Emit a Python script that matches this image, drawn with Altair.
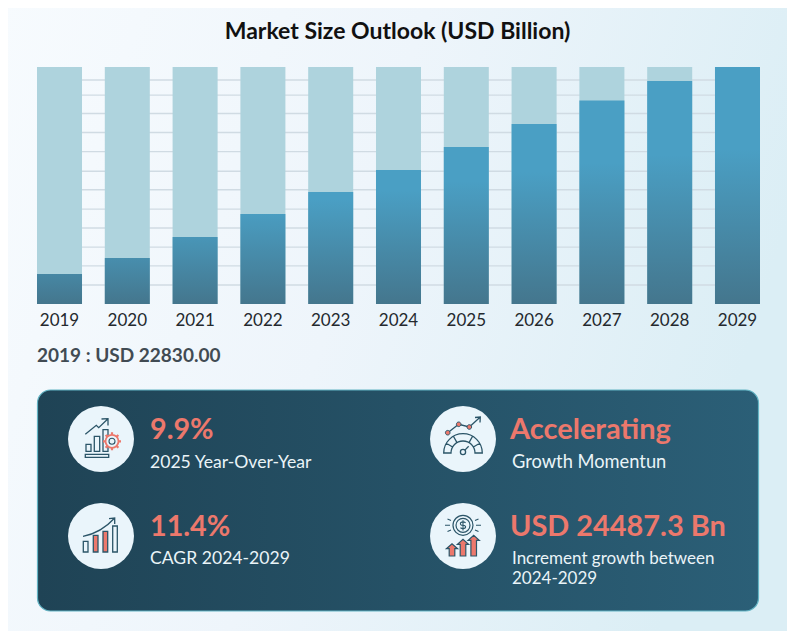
import math
import altair as alt

# ---- data ----
years = ["2019", "2020", "2021", "2022", "2023", "2024", "2025", "2026", "2027", "2028", "2029"]
values = [22830, 35000, 51000, 68500, 85200, 102000, 119500, 137000, 154900, 169700, 180400]
grid_values = [14500, 29000, 43300, 57800, 72200, 87000, 101000, 116000, 130500, 145000, 159000, 170500]
title_text = "Market Size Outlook (USD Billion)"
note_text = "2019 : USD 22830.00"
stat_big = ["9.9%", "11.4%", "Accelerating", "USD 24487.3 Bn"]
stat_small = ["2025 Year-Over-Year", "CAGR 2024-2029", "Growth Momentun", "Increment growth between", "2024-2029"]

FONT = "Lato"
CORAL = "#EC786C"
INK = "#2B5568"
DARK = "#44768D"
BRIGHT = "#4A9FC4"
PAGE = 8


def gradient(stops, x1=0, y1=0, x2=1, y2=0):
    return alt.LinearGradient(
        gradient="linear", x1=x1, y1=y1, x2=x2, y2=y2,
        stops=[alt.GradientStop(offset=o, color=col) for o, col in stops],
    )


def rect(x0, y0, x1, y1):
    return f"M{x0} {y0}L{x1} {y0}L{x1} {y1}L{x0} {y1}Z"


def circ(cx, cy, r):
    return f"M{cx-r} {cy}A{r} {r} 0 1 0 {cx+r} {cy}A{r} {r} 0 1 0 {cx-r} {cy}Z"


def poly(*pts):
    return "M" + "L".join(f"{x} {y}" for x, y in pts)


def px(v):
    return alt.value(v - PAGE)


def shape(cx, cy, path, fill=None, stroke=INK, sw=1.3):
    kw = dict(filled=True, fill=fill) if fill else dict(filled=False)
    return alt.Chart(alt.Data(values=[{"i": 0}])).mark_point(
        shape=path, size=4, stroke=stroke, strokeWidth=sw, opacity=1, **kw
    ).encode(x=px(cx), y=px(cy))


def label(text, x, y, size, color, weight="normal"):
    return alt.Chart(alt.Data(values=[{"t": text}])).mark_text(
        font=FONT, fontSize=size, fontWeight=weight, color=color, align="left", baseline="middle"
    ).encode(text="t:N", x=px(x), y=px(y))


def frame(x0, y0, x1, y1, **kw):
    return alt.Chart(alt.Data(values=[{"i": 0}])).mark_rect(**kw).encode(
        x=px(x0), x2=px(x1), y=px(y0), y2=px(y1)
    )


MAXV = values[-1]
PLOT_H = 237
WIDTH, HEIGHT = 779, 623
x_scale = alt.Scale(domain=years, range=[37 - PAGE, 760 - PAGE], paddingInner=0.336, paddingOuter=0)
y_scale = alt.Scale(domain=[0, MAXV], range=[304 - PAGE, 67 - PAGE], nice=False)
x_enc = alt.X(
    "year:O", scale=x_scale, sort=years, title=None,
    axis=alt.Axis(orient="bottom", offset=304 - PAGE - HEIGHT, domain=False, ticks=False, labelAngle=0, zindex=1,
                  labelFont=FONT, labelFontSize=17, labelColor="#24292E", labelPadding=8, grid=False),
)
y_enc = alt.Y("v:Q", scale=y_scale, title=None, axis=None)

background = frame(0, 0, 808, 640, fill=gradient(
    [(0, "#F7FBFE"), (0.5, "#EEF5FB"), (1, "#DBEEF5")], y2=0.25))

grid = alt.Chart(alt.Data(values=[{"v": v} for v in grid_values])).mark_rule(
    color="#D0DBE3", strokeWidth=1.4
).encode(x=px(37), x2=px(760), y=alt.Y("v:Q", scale=y_scale, title=None, axis=None))

backdrop = alt.Chart(alt.Data(values=[{"year": y, "v": MAXV} for y in years])).mark_bar(
    color="#AED3DD"
).encode(x=x_enc, y=y_enc)

bars = []
for year, val in zip(years, values):
    h = val / MAXV * PLOT_H
    ramp = 60 + 0.4 * h  # pixels above the base where the fill reaches its bright colour
    grad = gradient([(0, DARK), (1, BRIGHT)], x1=0, x2=0, y1=1, y2=1 - ramp / h)
    bars.append(
        alt.Chart(alt.Data(values=[{"year": year, "v": val}])).mark_bar(color=grad).encode(x=x_enc, y=y_enc)
    )

panel = frame(37.5, 390, 758.5, 611, cornerRadius=13, stroke="#63B4C4", strokeWidth=1.2,
              fill=gradient([(0, "#1F4355"), (1, "#2B5F77")]))

centers = [(101, 439), (101, 536), (463, 439), (463, 536)]
discs = [
    alt.Chart(alt.Data(values=[{"i": 0}])).mark_circle(size=4356, color="#EAF5FB", opacity=1).encode(x=px(cx), y=px(cy))
    for cx, cy in centers
]

# icon 1: bars, arrow and gear
c = centers[0]
gear_teeth = "".join(
    poly((11 + 6.5 * math.cos(a * math.pi / 4), 2.3 + 6.5 * math.sin(a * math.pi / 4)),
         (11 + 9 * math.cos(a * math.pi / 4), 2.3 + 9 * math.sin(a * math.pi / 4)))
    for a in range(8)
)
icon1 = [
    shape(*c, rect(-15.7, 15.3, 7.7, 18.3)),
    shape(*c, rect(-15, 5.3, -10, 12.3) + rect(-6.7, -2.7, -1.3, 12.3) + rect(2, -9.3, 7, 12.3)),
    shape(*c, poly((-15.7, -4.7), (-4.7, -13.7), (-2.3, -11.3), (7, -20.3)) + poly((0.5, -20), (7, -20.3), (7, -13.5))),
    shape(*c, circ(11, 2.3, 6.5), fill="#EAF5FB", stroke=CORAL, sw=1.8),
    shape(*c, gear_teeth, stroke=CORAL, sw=2.2),
    shape(*c, circ(11, 2.3, 3), stroke=INK, sw=1.1),
]
# icon 2: rising bars and curve
c = centers[1]
icon2 = [
    shape(*c, rect(-17.7, 5.3, -13, 16) + rect(11.7, -10, 16.3, 16)),
    shape(*c, rect(-7.7, -0.7, -3, 16) + rect(2, -4.7, 6.7, 16), fill=CORAL),
    shape(*c, "M-18 0.3Q0 -3 13.7 -18" + poly((8, -17.3), (13.7, -18), (13.7, -12))),
]
# icon 3: gauge and trend
c = centers[2]
gauge = ("M-19.3 14A19.3 19.3 0 0 1 19.3 14L12 14A12 12 0 0 0 -12 14Z"
         + poly((-16.7, 4.3), (-10.4, 8)) + poly((-9.6, -2.7), (-6, 3.6))
         + poly((9.6, -2.7), (6, 3.6)) + poly((16.7, 4.3), (10.4, 8)))
icon3 = [
    shape(*c, gauge),
    shape(*c, poly((1.6, 11.4), (5.7, 7.3))),
    shape(*c, circ(0, 13, 2.6), fill="#EAF5FB"),
    shape(*c, poly((-15.3, -6.3), (-4.3, -14.7), (6.3, -12), (17.3, -22)) + poly((12, -21.5), (17.3, -22), (17, -16.5))),
    shape(*c, circ(-15.3, -6.3, 2.3) + circ(-4.3, -14.7, 2.3) + circ(6.3, -12, 2.3), fill=CORAL, sw=1),
]
# icon 4: coin and arrows
c = centers[3]
rays = (poly((-18, -10.7), (-13, -10.7)) + poly((13, -10.7), (18, -10.7))
        + poly((-15.5, -17), (-12, -15.5)) + poly((15.5, -17), (12, -15.5))
        + poly((-15.5, -4.5), (-12, -6)) + poly((15.5, -4.5), (12, -6)))


def arrow(x, top, bottom=20):
    return poly((x - 2.8, bottom), (x - 2.8, top + 5), (x - 5.6, top + 5), (x, top),
                (x + 5.6, top + 5), (x + 2.8, top + 5), (x + 2.8, bottom)) + "Z"


icon4 = [
    shape(*c, circ(0, -10.7, 10) + circ(0, -10.7, 7), sw=1.2),
    shape(*c, rays, sw=1.1),
    shape(*c, "M2.6 -13.2Q0 -15 -2.4 -13.2Q-3.4 -11 0 -10.7Q3.4 -10.4 2.4 -8.2Q0 -6.4 -2.6 -8.2"
              + poly((0, -15.8), (0, -5.6)), sw=1.1),
    shape(*c, arrow(-11, 7.7) + arrow(0, 3.3) + arrow(10.7, -0.7), fill=CORAL, sw=1.2),
]

SMALL = 17.6
texts = [
    label(note_text, 37, 356, 19, "#414B53", "bold"),
    label(stat_big[0], 150, 430, 28.7, CORAL, "bold"),
    label(stat_small[0], 150, 462.5, SMALL, "#EAF4F8"),
    label(stat_big[1], 150, 527, 28.7, CORAL, "bold"),
    label(stat_small[1], 150, 558.5, SMALL, "#EAF4F8"),
    label(stat_big[2], 510, 430, 29, CORAL, "bold"),
    label(stat_small[2], 512, 462.5, 18.3, "#EAF4F8"),
    label(stat_big[3], 510, 527, 28.9, CORAL, "bold"),
    label(stat_small[3], 512, 558.5, 17, "#EAF4F8"),
    label(stat_small[4], 512, 579, 17, "#EAF4F8"),
]

chart = alt.layer(
    background, grid, backdrop, *bars, panel, *discs, *icon1, *icon2, *icon3, *icon4, *texts
).properties(
    width=WIDTH, height=HEIGHT, padding=0,
    autosize=alt.AutoSizeParams(type="none"),
    title=alt.TitleParams(title_text, font=FONT, fontSize=23, fontWeight="bold", color="#111111",
                          anchor="middle", dy=44, offset=0),
).configure_view(stroke=None)

chart.save("out.html", embed_options={"renderer": "svg", "actions": False})
